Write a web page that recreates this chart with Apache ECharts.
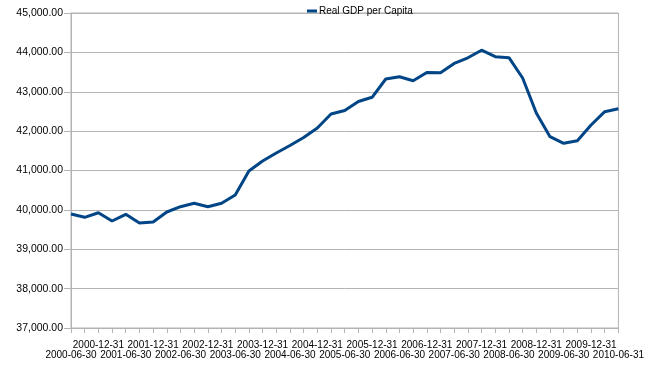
<!DOCTYPE html>
<html>
<head>
<meta charset="utf-8">
<script src="https://cdn.jsdelivr.net/npm/echarts@6/dist/echarts.min.js"></script>
<style>html,body{margin:0;padding:0;background:#fff;}#c{width:647px;height:367px;}</style>
</head>
<body>
<div id="c"></div>
<script>
var categories = [
  "2000-06-30","2000-09-30","2000-12-31","2001-03-31",
  "2001-06-30","2001-09-30","2001-12-31","2002-03-31",
  "2002-06-30","2002-09-30","2002-12-31","2003-03-31",
  "2003-06-30","2003-09-30","2003-12-31","2004-03-31",
  "2004-06-30","2004-09-30","2004-12-31","2005-03-31",
  "2005-06-30","2005-09-30","2005-12-31","2006-03-31",
  "2006-06-30","2006-09-30","2006-12-31","2007-03-31",
  "2007-06-30","2007-09-30","2007-12-31","2008-03-31",
  "2008-06-30","2008-09-30","2008-12-31","2009-03-31",
  "2009-06-30","2009-09-30","2009-12-31","2010-03-31",
  "2010-06-31"
];
var gdpPerCapita = [
  39895, 39811, 39928, 39717,
  39888, 39667, 39692, 39946,
  40081, 40167, 40081, 40167,
  40378, 40987, 41241, 41444,
  41635, 41838, 42079, 42435,
  42524, 42752, 42859, 43324,
  43380, 43281, 43489, 43484,
  43720, 43862, 44055, 43890,
  43865, 43349, 42460, 41858,
  41691, 41757, 42156, 42494,
  42570
];
var seriesName = "Real GDP per Capita";
var yMin = 37000, yMax = 45000, yStep = 1000;

var labelBase = {fontSize: 10, lineHeight: 10, color: '#000', fontFamily: 'Liberation Sans', hideOverlap: false,
                 showMinLabel: true, showMaxLabel: true};

var chart = echarts.init(document.getElementById('c'), null, {renderer: 'canvas'});
chart.setOption({
  animation: false,
  backgroundColor: '#ffffff',
  textStyle: {fontFamily: 'Liberation Sans, Arial, sans-serif'},
  legend: {
    left: 302, top: 1,
    itemWidth: 10, itemHeight: 3, itemGap: 10,
    icon: 'rect',
    textStyle: {fontSize: 10, color: '#000', fontFamily: 'Liberation Sans', padding: [0, 0, 0, -3]},
    data: [seriesName]
  },
  grid: {left: 71, right: 27, top: 13, bottom: 39, containLabel: false,
         show: true, borderColor: '#b3b3b3', borderWidth: 1},
  xAxis: [{
    type: 'category',
    data: categories,
    boundaryGap: false,
    position: 'bottom',
    axisLine: {lineStyle: {color: '#b3b3b3', width: 1}},
    axisTick: {show: true, interval: 0, length: 5, lineStyle: {color: '#b3b3b3'}},
    axisLabel: Object.assign({}, labelBase, {
      interval: function (i) { return i % 4 === 2; },
      margin: 12
    }),
    splitLine: {show: false}
  }, {
    type: 'category',
    data: categories,
    boundaryGap: false,
    position: 'bottom',
    offset: 0,
    axisLine: {show: false},
    axisTick: {show: false},
    axisLabel: Object.assign({}, labelBase, {
      interval: function (i) { return i % 4 === 0; },
      margin: 22
    }),
    splitLine: {show: false}
  }],
  yAxis: {
    type: 'value',
    min: yMin, max: yMax, interval: yStep,
    axisLine: {show: true, lineStyle: {color: '#b3b3b3', width: 1}},
    axisTick: {show: true, length: 7, lineStyle: {color: '#b3b3b3'}},
    axisLabel: {
      margin: 8, fontSize: 10.5, color: '#000', fontFamily: 'Liberation Sans',
      formatter: function (v) { return v.toLocaleString('en-US', {minimumFractionDigits: 2, maximumFractionDigits: 2}); }
    },
    splitLine: {show: true, lineStyle: {color: '#b3b3b3', width: 1}}
  },
  series: [{
    name: seriesName,
    type: 'line',
    xAxisIndex: 0,
    data: gdpPerCapita,
    showSymbol: false,
    symbol: 'none',
    lineStyle: {color: '#004586', width: 3},
    itemStyle: {color: '#004586'}
  }]
});
</script>
</body>
</html>
